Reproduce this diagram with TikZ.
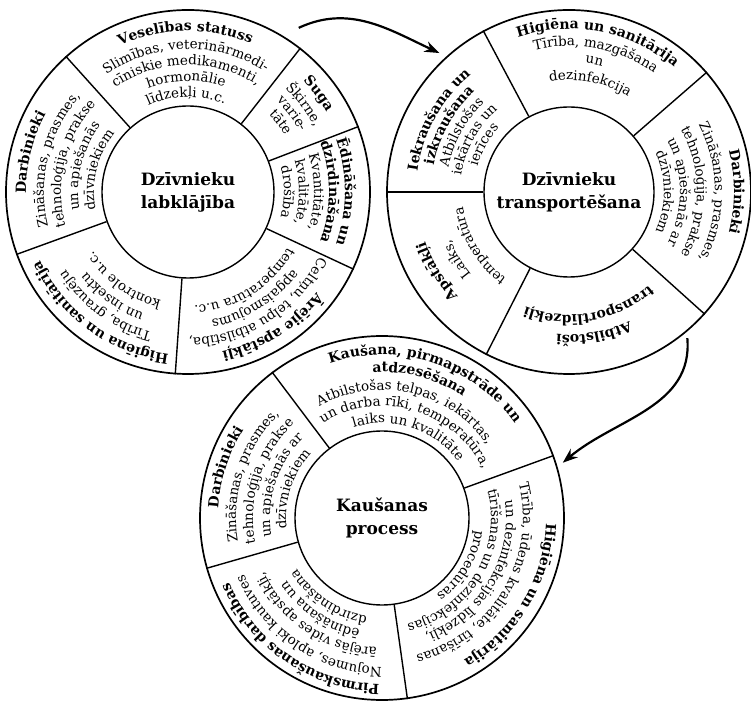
\documentclass[tikz,border=0pt]{standalone}
\usepackage{fontspec}
\setmainfont{DejaVu Serif}
\usetikzlibrary{decorations.text,arrows.meta,calc}

\newcommand\bodyfont{\fontsize{13.5}{16}\selectfont}
\newcommand\headfont{\bfseries\fontsize{14}{16}\selectfont}

% one line of text bent along a circle of radius #3 round node #1, centred on angle #2
\newcommand\ringline[5]{%
  \path[decorate,decoration={text along path,text align=center,text={|#4|#5}}]
    ([shift={({#2+85}:#3)}]#1.center) arc[start angle={#2+85},end angle={#2-85},radius=#3];}
\newcommand\headline[4]{\ringline{#1}{#2}{#3}{\headfont}{#4}}
\newcommand\bodyline[4]{\ringline{#1}{#2}{#3}{\bodyfont}{#4}}

\tikzset{
  rim/.style={circle,draw,line width=1.7pt,minimum size=364pt,inner sep=0pt},
  hub/.style={circle,draw,line width=1.4pt,inner sep=0pt,align=center,
              font=\bfseries\fontsize{17}{23}\selectfont},
  spoke/.style={line width=1.4pt},
  flow/.style={line width=2.2pt,-{Stealth[length=15pt,width=11pt]}},
}

\begin{document}
\begin{tikzpicture}[x=1pt,y=1pt]
\fill[white] (0,0) rectangle (751,701);
\useasboundingbox (0,0) rectangle (751,701);

% ---------- wheel 1: animal welfare ----------
\node[rim] (w1) at (188,509) {};
\node[hub,minimum size=172pt] (c1) at (188,509) {Dzīvnieku\\labklājība};
\foreach \a in {52,21,-25,-94,200,132} \draw[spoke] (c1.\a) -- (w1.\a);

\headline{c1}{91}{161}{Veselības statuss}
\bodyline{c1}{91}{143}{Slimības, veterinārmedi-}
\bodyline{c1}{91}{127}{cīniskie medikamenti,}
\bodyline{c1}{91}{111}{hormonālie}
\bodyline{c1}{91}{95}{līdzekļi u.c.}

\headline{c1}{37}{160}{Suga}
\bodyline{c1}{37}{142}{Šķirne,}
\bodyline{c1}{37}{127}{varie-}
\bodyline{c1}{37}{112}{tāte}

\headline{c1}{0}{157}{Ēdināšana un}
\headline{c1}{0}{141}{dzirdināšana}
\bodyline{c1}{0}{126}{Kvantitāte,}
\bodyline{c1}{0}{111}{kvalitāte,}
\bodyline{c1}{0}{96}{drošība}

\headline{c1}{-58}{163}{Ārējie apstākļi}
\bodyline{c1}{-58}{146}{Celtņu, telpu atbilstība,}
\bodyline{c1}{-58}{130}{apgaismojums}
\bodyline{c1}{-58}{114}{temperatūra u.c.}

\headline{c1}{234}{163}{Higiēna un sanitārija}
\bodyline{c1}{234}{145}{Tīrība, grauzēju}
\bodyline{c1}{234}{129}{un insektu}
\bodyline{c1}{234}{112}{kontrole u.c.}

\headline{c1}{166}{162}{Darbinieki}
\bodyline{c1}{166}{144}{Zināšanas, prasmes,}
\bodyline{c1}{166}{127}{tehnoloģija, prakse}
\bodyline{c1}{166}{110}{un apiešanās}
\bodyline{c1}{166}{94}{dzīvniekiem}

% ---------- wheel 2: transport ----------
\node[rim] (w2) at (569,509) {};
\node[hub,minimum size=170pt] (c2) at (569,509) {Dzīvnieku\\transportēšana};
\foreach \a in {118,41,-42,-117,180} \draw[spoke] (c2.\a) -- (w2.\a);

\headline{c2}{79}{163}{Higiēna un sanitārija}
\bodyline{c2}{79}{146}{Tīrība, mazgāšana}
\bodyline{c2}{79}{130}{un}
\bodyline{c2}{79}{112}{dezinfekcija}

\headline{c2}{0}{165}{Darbinieki}
\bodyline{c2}{0}{146}{Zināšanas, prasmes,}
\bodyline{c2}{0}{128}{tehnoloģija, prakse}
\bodyline{c2}{0}{111}{un apiešanās ar}
\bodyline{c2}{0}{95}{dzīvniekiem}

\headline{c2}{-80}{143}{Atbilstoši}
\headline{c2}{-80}{123}{transportlīdzekļi}

\headline{c2}{211}{152}{Apstākļi}
\bodyline{c2}{211}{128}{Laiks,}
\bodyline{c2}{211}{107}{temperatūra}

\headline{c2}{151}{153}{Iekraušana un}
\headline{c2}{151}{138}{izkraušana}
\bodyline{c2}{151}{123}{Atbilstošas}
\bodyline{c2}{151}{109}{iekārtas un}
\bodyline{c2}{151}{95}{ierīces}

% ---------- wheel 3: slaughter ----------
\node[rim] (w3) at (382,183) {};
\node[hub,minimum size=174pt] (c3) at (382,183) {Kaušanas\\process};
\foreach \a in {127,20,-82,196} \draw[spoke] (c3.\a) -- (w3.\a);

\headline{c3}{72}{163}{Kaušana, pirmapstrāde un}
\headline{c3}{75}{146}{atdzesēšana}
\bodyline{c3}{77}{128}{Atbilstošas telpas, iekārtas,}
\bodyline{c3}{74}{112}{un darba rīki, temperatūra,}
\bodyline{c3}{72}{95}{laiks un kvalitāte}

\headline{c3}{-31}{164}{Higiēna un sanitārija}
\bodyline{c3}{-31}{141}{Tīrība, ūdens kvalitāte, tīrīšanas}
\bodyline{c3}{-31}{124}{un dezinfekcijas līdzekļi,}
\bodyline{c3}{-31}{109}{tīrīšanas un dezinfekcijas}
\bodyline{c3}{-31}{94}{procedūras}

\headline{c3}{236}{166}{Pirmskaušanas darbības}
\bodyline{c3}{236}{149}{Nojumes, aploki kautuves}
\bodyline{c3}{236}{130}{ārējās vides apstākļi,}
\bodyline{c3}{236}{114}{ēdināšana un}
\bodyline{c3}{236}{99}{dzirdināšana}

\headline{c3}{162}{164}{Darbinieki}
\bodyline{c3}{162}{146}{Zināšanas, prasmes,}
\bodyline{c3}{162}{129}{tehnoloģija, prakse}
\bodyline{c3}{162}{112}{un apiešanās ar}
\bodyline{c3}{162}{96}{dzīvniekiem}

% ---------- flow between the stages ----------
\coordinate (a1s) at ($(w1.center)+(56:198)$);
\coordinate (a1e) at ($(w2.center)+(133:190)$);
\coordinate (a2s) at ($(w2.center)+(-51:188)$);
\coordinate (a2e) at ($(w3.center)+(17:189)$);
\draw[flow] (a1s) to[out=25,in=155] (a1e);
\draw[flow] (a2s) to[out=-85,in=40] (a2e);
\end{tikzpicture}
\end{document}
